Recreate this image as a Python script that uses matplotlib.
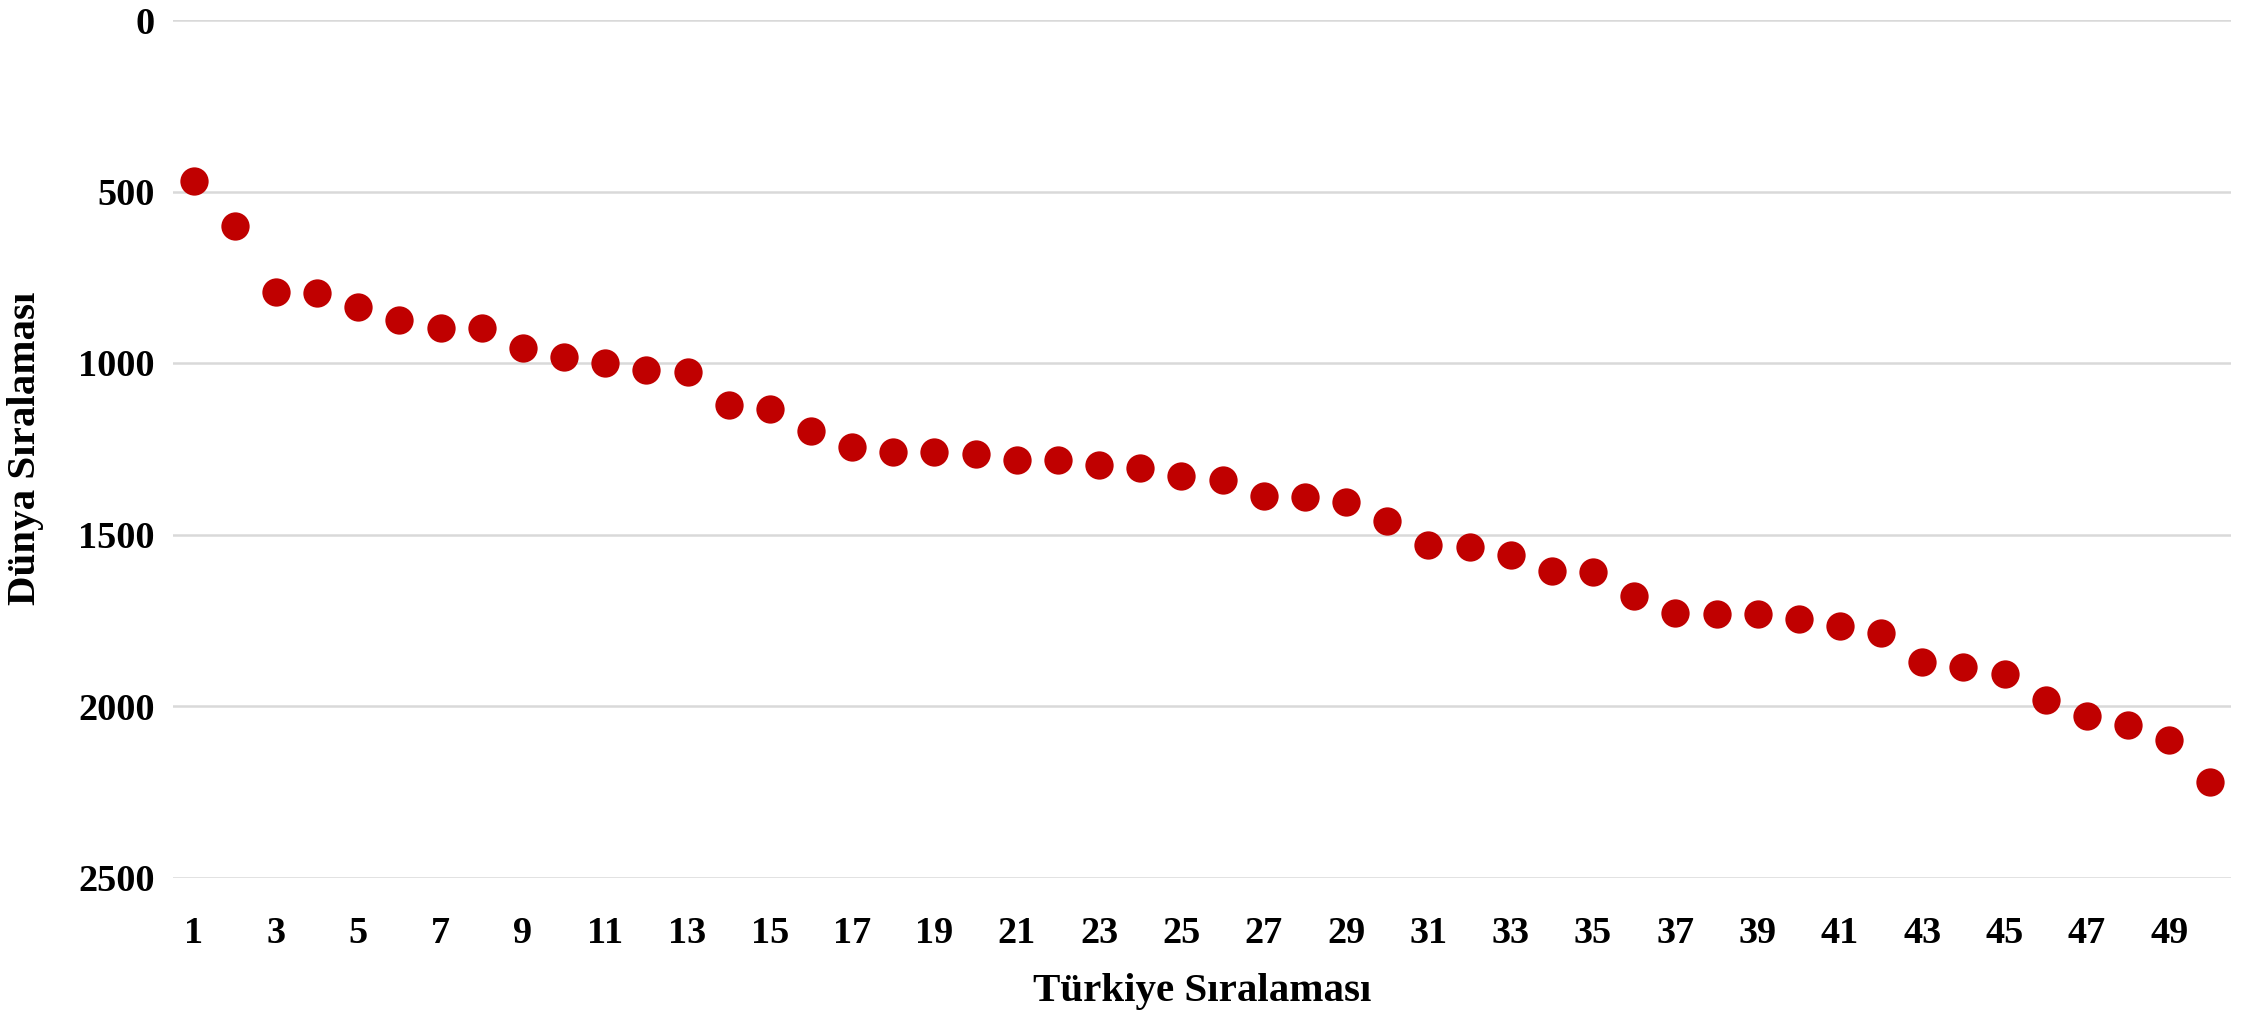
import matplotlib
matplotlib.use("Agg")
import matplotlib.pyplot as plt

# Türkiye sıralaması (1..50) ve dünya sıralaması
turkiye_sira = list(range(1, 51))
dunya_sira = [468, 600, 794, 797, 837, 875, 897, 899, 957, 982,
              1001, 1020, 1026, 1123, 1134, 1199, 1246, 1259, 1260, 1264,
              1282, 1284, 1298, 1307, 1329, 1340, 1389, 1391, 1406, 1461,
              1532, 1536, 1559, 1607, 1610, 1679, 1728, 1731, 1733, 1745,
              1768, 1786, 1871, 1886, 1908, 1983, 2030, 2054, 2100, 2221]
y_ticks = [0, 500, 1000, 1500, 2000, 2500]
x_ticks = list(range(1, 51, 2))

plt.rcParams['font.family'] = ['Liberation Serif', 'DejaVu Serif']
plt.rcParams['font.weight'] = 'bold'

fig = plt.figure(figsize=(22.54, 10.15), dpi=100)
W, H = 2254, 1015
ax = fig.add_axes([173 / W, 1 - 877.5 / H, (2231 - 173) / W, (877.5 - 20) / H])

ax.scatter(turkiye_sira, dunya_sira, s=415, color='#C00000', zorder=3, linewidths=0)

ax.set_xlim(0.5, 50.5)
ax.set_ylim(2500, 0)
ax.set_yticks(y_ticks)
ax.set_xticks(x_ticks)
ax.grid(axis='y', color='#D9D9D9', linewidth=1.8, zorder=0)
ax.set_axisbelow(True)
for sp in ax.spines.values():
    sp.set_visible(False)
ax.tick_params(axis='both', length=0, labelsize=27.5)
ax.tick_params(axis='y', pad=13)
ax.tick_params(axis='x', pad=28)
for lbl in ax.get_xticklabels() + ax.get_yticklabels():
    lbl.set_fontweight('bold')

ax.set_xlabel('Türkiye Sıralaması', fontsize=29.5, fontweight='bold')
ax.set_ylabel('Dünya Sıralaması', fontsize=29.5, fontweight='bold')
ax.xaxis.set_label_coords(0.5, (1015 - 992 - 137.5) / 857.5)
ax.xaxis.label.set_va('center')
ax.yaxis.set_label_coords((26 - 173) / 2058, 0.5)
ax.yaxis.label.set_va('center')

fig.savefig('out.png', dpi=100)
